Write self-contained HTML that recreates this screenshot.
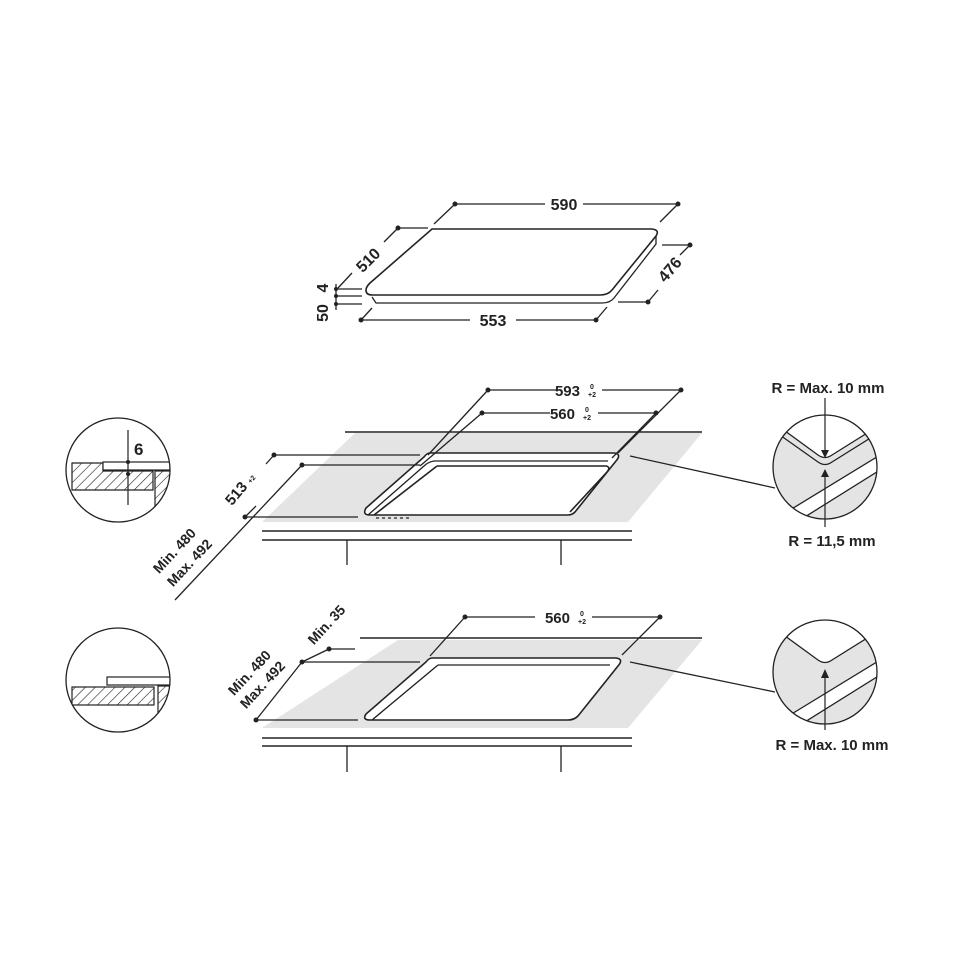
<!DOCTYPE html>
<html><head><meta charset="utf-8"><style>
html,body{margin:0;padding:0;background:#fff}
svg{display:block}
text{font-family:"Liberation Sans",Arial,sans-serif;font-weight:bold;fill:#222}
</style></head><body>
<svg width="970" height="971" viewBox="0 0 970 971" xmlns="http://www.w3.org/2000/svg">
<defs>
<pattern id="h" width="7" height="7" patternUnits="userSpaceOnUse" patternTransform="rotate(45)">
<line x1="0" y1="0" x2="0" y2="7" stroke="#222" stroke-width="1.2"/></pattern>
<clipPath id="c1"><circle cx="118" cy="470" r="52"/></clipPath>
<clipPath id="c2"><circle cx="118" cy="680" r="52"/></clipPath>
<clipPath id="c3"><circle cx="825" cy="467" r="52"/></clipPath>
<clipPath id="c4"><circle cx="825" cy="672" r="52"/></clipPath>
</defs>
<g stroke="#222" fill="none" stroke-width="1.3">
<path d="M432,229 L652,229 Q660,230 656,236 L612,290 Q608,295 600,295 L372,295 Q366,295 366,290 Q366,287 370,283 Z" fill="#fff" stroke-width="1.6"/>
<path d="M656,236 L656,244 L614,298 Q610,303 602,303 L376,303 L372,297" />
<line x1="455" y1="204" x2="545" y2="204"/><line x1="583" y1="204" x2="678" y2="204"/>
<line x1="455" y1="204" x2="434" y2="224"/><line x1="678" y1="204" x2="660" y2="222"/>
<line x1="398" y1="228" x2="428" y2="228"/><line x1="398" y1="228" x2="384" y2="242"/><line x1="352" y1="273" x2="338" y2="288"/>
<line x1="662" y1="245" x2="690" y2="245"/><line x1="690" y1="245" x2="680" y2="255"/><line x1="658" y1="290" x2="648" y2="302"/><line x1="618" y1="302" x2="648" y2="302"/>
<line x1="361" y1="320" x2="470" y2="320"/><line x1="516" y1="320" x2="596" y2="320"/>
<line x1="361" y1="320" x2="372" y2="308"/><line x1="596" y1="320" x2="607" y2="307"/>
<line x1="336" y1="289" x2="362" y2="289"/><line x1="336" y1="296" x2="362" y2="296"/><line x1="336" y1="304" x2="362" y2="304"/>
<line x1="336" y1="284" x2="336" y2="310"/>
</g>
<g fill="#222">
<circle cx="455" cy="204" r="2.5"/><circle cx="678" cy="204" r="2.5"/><circle cx="398" cy="228" r="2.5"/>
<circle cx="690" cy="245" r="2.5"/><circle cx="648" cy="302" r="2.5"/><circle cx="361" cy="320" r="2.5"/><circle cx="596" cy="320" r="2.5"/>
<circle cx="336" cy="289" r="2"/><circle cx="336" cy="296" r="2"/><circle cx="336" cy="304" r="2"/>
</g>
<text x="564" y="210" font-size="16" text-anchor="middle">590</text>
<text x="493" y="326" font-size="16" text-anchor="middle">553</text>
<text transform="translate(372,264) rotate(-45)" font-size="16" text-anchor="middle">510</text>
<text transform="translate(674,273) rotate(-50)" font-size="16" text-anchor="middle">476</text>
<text transform="translate(328,288) rotate(-90)" font-size="16" text-anchor="middle">4</text>
<text transform="translate(328,313) rotate(-90)" font-size="16" text-anchor="middle">50</text>

<polygon points="355,433 702,433 628,522 262,522" fill="#e4e4e4"/>
<g stroke="#222" fill="none" stroke-width="1.3">
<line x1="345" y1="432" x2="702" y2="432" stroke-width="1.6"/>
<line x1="262" y1="531" x2="632" y2="531" stroke-width="1.6"/>
<line x1="262" y1="540" x2="632" y2="540" stroke-width="1.6"/>
<line x1="347" y1="540" x2="347" y2="565"/><line x1="561" y1="540" x2="561" y2="565"/>
<path d="M430,453 L614,453 Q622,454 616,461 L575,512 Q572,515 568,515 L370,515 Q362,515 366,508 L424,457 Q427,453 430,453 Z" fill="#fff" stroke-width="1.6"/>
<path d="M434,461 L608,461" />
<path d="M437,466 L606,466 Q611,467 607,472 L570,512" stroke-width="1.6"/>
<path d="M437,466 L374,515" stroke-width="1.6"/>
<path d="M434,461 Q428,462 424,466 L368,515"/>
<line x1="376" y1="518" x2="412" y2="518" stroke-dasharray="3,3"/>
<line x1="488" y1="390" x2="557" y2="390"/><line x1="602" y1="390" x2="681" y2="390"/>
<line x1="488" y1="390" x2="428" y2="455"/><line x1="681" y1="390" x2="618" y2="453"/>
<line x1="482" y1="413" x2="550" y2="413"/><line x1="598" y1="413" x2="656" y2="413"/>
<line x1="482" y1="413" x2="420" y2="466"/><line x1="656" y1="413" x2="612" y2="458"/>
<line x1="274" y1="455" x2="420" y2="455"/><line x1="302" y1="465" x2="420" y2="465"/>
<line x1="245" y1="517" x2="358" y2="517"/>
<line x1="274" y1="455" x2="266" y2="464"/><line x1="245" y1="517" x2="256" y2="506"/>
<line x1="302" y1="465" x2="175" y2="600"/>
<line x1="630" y1="456" x2="775" y2="488"/>
</g>
<g fill="#222"><circle cx="488" cy="390" r="2.5"/><circle cx="681" cy="390" r="2.5"/><circle cx="482" cy="413" r="2.5"/><circle cx="656" cy="413" r="2.5"/>
<circle cx="274" cy="455" r="2.5"/><circle cx="302" cy="465" r="2.5"/><circle cx="245" cy="517" r="2.5"/></g>
<text x="580" y="396" font-size="15" text-anchor="end">593</text><text x="592" y="389" font-size="7" text-anchor="middle">0</text><text x="592" y="397" font-size="7" text-anchor="middle">+2</text>
<text x="575" y="419" font-size="15" text-anchor="end">560</text><text x="587" y="412" font-size="7" text-anchor="middle">0</text><text x="587" y="420" font-size="7" text-anchor="middle">+2</text>
<text transform="translate(244,492) rotate(-50)" font-size="15" text-anchor="middle">513 <tspan font-size="7">+2</tspan></text>
<text transform="translate(178,554) rotate(-47)" font-size="14" text-anchor="middle">Min. 480</text>
<text transform="translate(193,566) rotate(-47)" font-size="14" text-anchor="middle">Max. 492</text>

<g clip-path="url(#c1)" stroke="#222" stroke-width="1.2">
<path d="M72,463 L103,463 L103,471 L153,471 L153,490 L72,490 Z" fill="url(#h)"/>
<rect x="103" y="462" width="80" height="8" fill="#fff"/>
<rect x="155" y="471" width="30" height="60" fill="url(#h)"/>
<line x1="128" y1="430" x2="128" y2="505"/>
</g>
<circle cx="118" cy="470" r="52" fill="none" stroke="#222" stroke-width="1.3"/>
<circle cx="128" cy="462" r="2" fill="#222"/><circle cx="128" cy="474" r="2" fill="#222"/>
<text x="134" y="455" font-size="17">6</text>

<g clip-path="url(#c3)">
<rect x="770" y="410" width="110" height="120" fill="#e4e4e4"/>
<path d="M770,420 L818,455 Q825,460 832,455 L880,425 L880,410 L770,410 Z" fill="#fff"/>
<g stroke="#222" fill="none" stroke-width="1.3">
<path d="M770,420 L818,455 Q825,460 832,455 L880,425"/>
<path d="M770,428 L818,462 Q825,467 832,462 L880,432"/>
</g>
<path d="M800,520 L880,470 L880,455 L790,510 Z" fill="#fff"/>
<g stroke="#222" stroke-width="1.3"><line x1="790" y1="510" x2="880" y2="455"/><line x1="800" y1="520" x2="880" y2="470"/></g>
</g>
<circle cx="825" cy="467" r="52" fill="none" stroke="#222" stroke-width="1.3"/>
<g stroke="#222" stroke-width="1.2"><line x1="825" y1="398" x2="825" y2="452"/><line x1="825" y1="475" x2="825" y2="527"/></g>
<path d="M821,450 L829,450 L825,458 Z M821,477 L829,477 L825,469 Z" fill="#222"/>
<text x="828" y="393" font-size="15" text-anchor="middle">R = Max. 10 mm</text>
<text x="832" y="546" font-size="15" text-anchor="middle">R = 11,5 mm</text>

<polygon points="398,640 702,640 628,728 262,728" fill="#e4e4e4"/>
<g stroke="#222" fill="none" stroke-width="1.3">
<line x1="360" y1="638" x2="702" y2="638" stroke-width="1.6"/>
<line x1="262" y1="738" x2="632" y2="738" stroke-width="1.6"/>
<line x1="262" y1="746" x2="632" y2="746" stroke-width="1.6"/>
<line x1="347" y1="746" x2="347" y2="772"/><line x1="561" y1="746" x2="561" y2="772"/>
<path d="M432,658 L616,658 Q624,659 618,666 L578,716 Q574,720 568,720 L370,720 Q362,720 366,714 L426,662 Q429,658 432,658 Z" fill="#fff" stroke-width="1.6"/>
<path d="M438,665 L610,665" />
<path d="M438,665 L372,720" stroke-width="1.4"/>
<line x1="465" y1="617" x2="535" y2="617"/><line x1="592" y1="617" x2="660" y2="617"/>
<line x1="465" y1="617" x2="430" y2="656"/><line x1="660" y1="617" x2="622" y2="655"/>
<line x1="302" y1="662" x2="420" y2="662"/><line x1="256" y1="720" x2="358" y2="720"/>
<line x1="302" y1="662" x2="256" y2="720"/>
<line x1="329" y1="649" x2="355" y2="649"/><line x1="329" y1="649" x2="302" y2="662"/>
<line x1="630" y1="662" x2="775" y2="692"/>
</g>
<g fill="#222"><circle cx="465" cy="617" r="2.5"/><circle cx="660" cy="617" r="2.5"/><circle cx="302" cy="662" r="2.5"/><circle cx="256" cy="720" r="2.5"/><circle cx="329" cy="649" r="2.5"/></g>
<text x="570" y="623" font-size="15" text-anchor="end">560</text><text x="582" y="616" font-size="7" text-anchor="middle">0</text><text x="582" y="624" font-size="7" text-anchor="middle">+2</text>
<text transform="translate(330,628) rotate(-47)" font-size="14" text-anchor="middle">Min. 35</text>
<text transform="translate(253,676) rotate(-47)" font-size="14" text-anchor="middle">Min. 480</text>
<text transform="translate(266,688) rotate(-47)" font-size="14" text-anchor="middle">Max. 492</text>

<g clip-path="url(#c2)" stroke="#222" stroke-width="1.2">
<rect x="72" y="687" width="82" height="18" fill="url(#h)"/>
<rect x="107" y="677" width="80" height="8" fill="#fff"/>
<rect x="158" y="686" width="30" height="60" fill="url(#h)"/>
</g>
<circle cx="118" cy="680" r="52" fill="none" stroke="#222" stroke-width="1.3"/>

<g clip-path="url(#c4)">
<rect x="770" y="615" width="110" height="120" fill="#e4e4e4"/>
<path d="M770,625 L818,660 Q825,665 832,660 L880,630 L880,615 L770,615 Z" fill="#fff"/>
<path d="M800,725 L880,675 L880,660 L790,715 Z" fill="#fff"/>
<g stroke="#222" fill="none" stroke-width="1.3">
<path d="M770,625 L818,660 Q825,665 832,660 L880,630"/>
<line x1="790" y1="715" x2="880" y2="660"/><line x1="800" y1="725" x2="880" y2="675"/>
</g></g>
<circle cx="825" cy="672" r="52" fill="none" stroke="#222" stroke-width="1.3"/>
<line x1="825" y1="672" x2="825" y2="730" stroke="#222" stroke-width="1.2"/>
<path d="M821,678 L829,678 L825,669 Z" fill="#222"/>
<text x="832" y="750" font-size="15" text-anchor="middle">R = Max. 10 mm</text>
</svg>
</body></html>
